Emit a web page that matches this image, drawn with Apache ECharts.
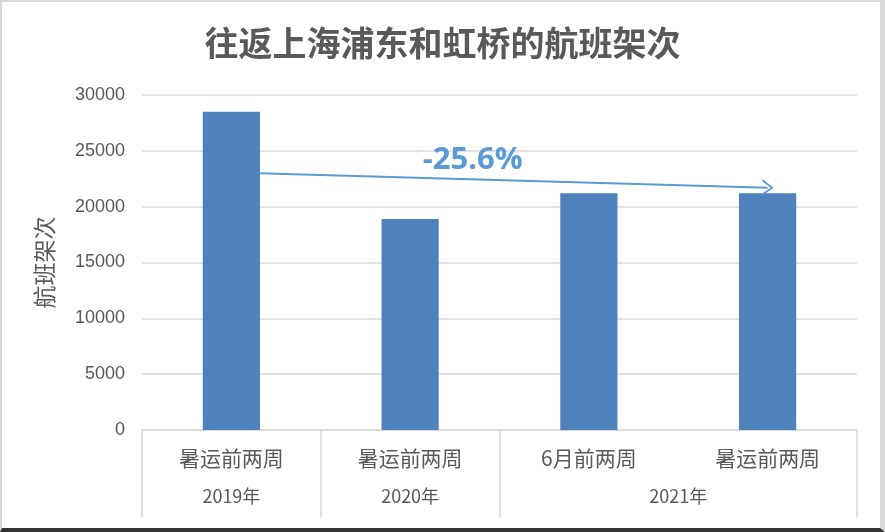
<!DOCTYPE html>
<html>
<head>
<meta charset="utf-8">
<script src="https://cdn.jsdelivr.net/npm/echarts@6/dist/echarts.min.js"></script>
<style>
html,body{margin:0;padding:0;background:#fff;}
#wrap{position:relative;width:885px;height:532px;}
#chart{width:885px;height:532px;}
#frame{position:absolute;left:0;top:0;width:885px;height:532px;box-sizing:border-box;border-top:2px solid #d9d9d9;border-left:2px solid #d9d9d9;border-right:5px solid #d9d9d9;border-bottom:4px solid #333;pointer-events:none;}
</style>
</head>
<body>
<div id="wrap"><div id="chart"></div><div id="frame"></div></div>
<script>
const titleText = '往返上海浦东和虹桥的航班架次';
const yAxisName = '航班架次';
const categories = ['暑运前两周', '暑运前两周', '6月前两周', '暑运前两周'];
const yearLabels = ['', '2019年', '', '2020年', '', '', '2021年', '', ''];
const yearSeparators = [0, 2, 4, 8];
const flights = [28500, 18900, 21200, 21200];
const arrowStart = [0.655, 23000];
const arrowEnd = [3.5, 21700];
const changeLabel = '-25.6%';
const changeLabelPos = [1.85, 24200];

const chart = echarts.init(document.getElementById('chart'));
const txt = '#595959';
const cjk = '"Noto Sans CJK SC", sans-serif';
chart.setOption({
  animation: false,
  title: {
    text: titleText, left: 'center', top: 21,
    textStyle: { fontFamily: cjk, fontSize: 34, fontWeight: 'bold', color: txt }
  },
  grid: { left: 142, right: 28, top: 95, bottom: 102 },
  xAxis: [
    {
      type: 'category', data: categories, position: 'bottom',
      axisLine: { lineStyle: { color: '#d9d9d9', width: 1.5 } },
      axisTick: { show: false },
      axisLabel: { color: txt, fontSize: 21, fontFamily: cjk, margin: 18 }
    },
    {
      type: 'category', data: yearLabels, position: 'bottom', boundaryGap: false,
      axisLine: { show: false },
      axisTick: {
        show: true, length: 87, alignWithLabel: true,
        interval: (i) => yearSeparators.includes(i),
        lineStyle: { color: '#d9d9d9', width: 1.5 }
      },
      axisLabel: { interval: 0, color: txt, fontSize: 18, fontFamily: cjk, margin: 57 }
    },
    { type: 'value', min: 0, max: 4, show: false }
  ],
  yAxis: {
    type: 'value', min: 0, max: 30000, interval: 5000,
    name: yAxisName, nameLocation: 'middle', nameGap: 86, nameRotate: 90,
    nameTextStyle: { fontFamily: cjk, fontSize: 23, color: txt },
    axisLine: { show: false }, axisTick: { show: false },
    axisLabel: { color: txt, fontSize: 18, margin: 17, fontFamily: 'Liberation Sans, sans-serif', formatter: (v) => String(v) },
    splitLine: { lineStyle: { color: '#d9d9d9', width: 1.5 } }
  },
  series: [
    {
      type: 'bar', data: flights, xAxisIndex: 0, barWidth: '32%',
      itemStyle: { color: '#4f81bd' }
    },
    {
      type: 'line', xAxisIndex: 2, data: [], symbol: 'none',
      markLine: {
        silent: true,
        symbol: ['none', 'path://M5,0 L10,8.6 L9,9.4 L5,2.4 L1,9.4 L0,8.6 Z'],
        symbolSize: [16, 12],
        lineStyle: { color: '#5b9bd5', width: 2, type: 'solid' },
        label: { show: false },
        data: [[{ coord: arrowStart }, { coord: arrowEnd }]]
      },
      markPoint: {
        silent: true, symbol: 'circle', symbolSize: 0,
        label: {
          show: true, formatter: changeLabel, color: '#5b9bd5',
          fontSize: 31, fontWeight: 'bold', fontFamily: 'Open Sans, Liberation Sans, sans-serif'
        },
        data: [{ coord: changeLabelPos }]
      }
    }
  ]
});
</script>
</body>
</html>
